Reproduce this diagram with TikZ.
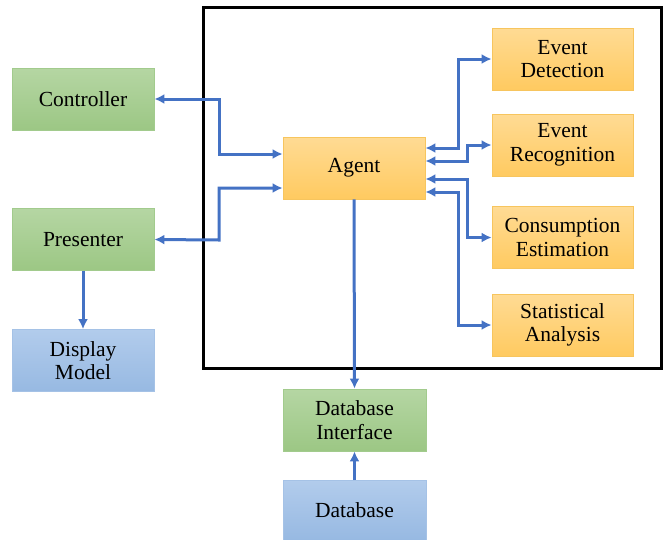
\documentclass[tikz,border=0pt]{standalone}
\usepackage{fontspec}
\setmainfont{Liberation Serif}
\usetikzlibrary{arrows.meta}
\definecolor{arrblue}{HTML}{4472C4}
\definecolor{gtop}{HTML}{B5D6A3}
\definecolor{gbot}{HTML}{9CC784}
\definecolor{gline}{HTML}{A2CB8D}
\definecolor{otop}{HTML}{FFDB94}
\definecolor{obot}{HTML}{FFCA60}
\definecolor{oline}{HTML}{F7C55E}
\definecolor{btop}{HTML}{B2CCEC}
\definecolor{bbot}{HTML}{97B9E2}
\definecolor{bline}{HTML}{A5C2E6}
\tikzset{
  box/.style={minimum width=142pt, minimum height=62pt, inner sep=0pt, align=center,
    font=\fontsize{21.5}{23.5}\selectfont, line width=0.8pt},
  gbox/.style={box, draw=gline, top color=gtop, bottom color=gbot},
  obox/.style={box, draw=oline, top color=otop, bottom color=obot},
  bbox/.style={box, draw=bline, top color=btop, bottom color=bbot},
  arr/.style={draw=arrblue, line width=3pt, -{Latex[length=10pt,width=10pt]}},
  biarr/.style={draw=arrblue, line width=3pt, {Latex[length=10pt,width=10pt]}-{Latex[length=10pt,width=10pt]}},
}
\begin{document}
\begin{tikzpicture}[x=1pt,y=-1pt]
\useasboundingbox (0,0) rectangle (664,539);
\draw[line width=3pt] (203,7) rectangle (661,368);
\node[gbox] (ctrl) at (83,99) {Controller};
\node[gbox] (pres) at (83,239.5) {Presenter};
\node[bbox] (disp) at (83,360.5) {Display\\Model};
\node[obox] (agent) at (354,168) {Agent};
\node[obox, minimum width=141pt] (ed) at (562.5,59) {Event\\Detection};
\node[obox, minimum width=141pt] (er) at (562.5,145) {Event\\Recognition};
\node[obox, minimum width=141pt] (ce) at (562.5,237.5) {Consumption\\Estimation};
\node[obox, minimum width=141pt] (sa) at (562.5,325) {Statistical\\Analysis};
\node[gbox, minimum width=143pt] (dbi) at (354.5,420) {Database\\Interface};
\node[bbox, minimum width=143pt, minimum height=60pt] (db) at (354.5,510) {Database};
\draw[biarr] (ctrl.east) -| (219,154) -- ([yshift=14pt]agent.west);
\draw[biarr] ([yshift=-20pt]agent.west) -| (219,240) -- (pres.east);
\draw[biarr] ([yshift=20pt]agent.east) -| (458,59) -- (ed.west);
\draw[biarr] ([yshift=7pt]agent.east) -| (467,145) -- (er.west);
\draw[biarr] ([yshift=-11pt]agent.east) -| (467,237.5) -- (ce.west);
\draw[biarr] ([yshift=-24pt]agent.east) -| (458,325) -- (sa.west);
\draw[arr] (agent.south) -- (dbi.north);
\draw[arr] (db.north) -- (dbi.south);
\draw[arr] (pres.south) -- (disp.north);
\end{tikzpicture}
\end{document}
